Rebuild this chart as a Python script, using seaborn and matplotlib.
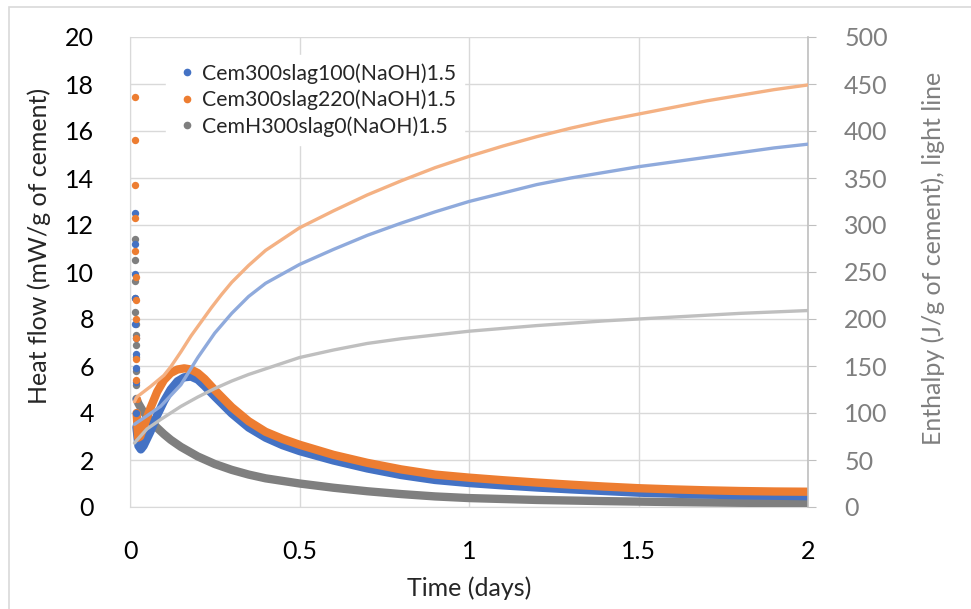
import numpy as np
import pandas as pd
import matplotlib
matplotlib.use("Agg")
import matplotlib.pyplot as plt
import seaborn as sns
from matplotlib.lines import Line2D
from matplotlib.patches import Rectangle

# ---------------- DATA ----------------
labels = ["Cem300slag100(NaOH)1.5", "Cem300slag220(NaOH)1.5", "CemH300slag0(NaOH)1.5"]

# initial spike (separate dots)
spike_t_blue = [0.0140, 0.0145, 0.0150, 0.0155, 0.0160, 0.0165, 0.0170, 0.0175, 0.0180, 0.0185, 0.0190]
spike_v_blue = [12.5, 11.2, 9.9, 8.9, 7.8, 7.2, 6.5, 5.9, 5.3, 4.6, 4.0]
spike_t_orange = [0.0140, 0.0145, 0.0150, 0.0155, 0.0160, 0.0165, 0.0170, 0.0175, 0.0180, 0.0185, 0.0190, 0.0195]
spike_v_orange = [17.45, 15.6, 13.7, 12.3, 10.9, 9.8, 8.8, 8.0, 7.2, 6.3, 5.4, 4.6]
spike_t_gray = [0.0140, 0.0145, 0.0150, 0.0155, 0.0160, 0.0165, 0.0170, 0.0175, 0.0180, 0.0185, 0.0190]
spike_v_gray = [11.4, 10.5, 9.6, 8.9, 8.3, 7.8, 7.3, 6.9, 6.4, 5.8, 5.2]

# heat flow (left axis)
t_blue = [0.019, 0.025, 0.032, 0.04, 0.06, 0.08, 0.10, 0.12, 0.14, 0.16, 0.18, 0.20,
          0.22, 0.25, 0.30, 0.35, 0.40, 0.45, 0.5, 0.6, 0.7, 0.8, 0.9, 1.0, 1.1,
          1.2, 1.3, 1.4, 1.5, 1.6, 1.7, 1.8, 1.9, 2.0]
hf_blue = [3.4, 2.6, 2.45, 2.6, 3.2, 3.9, 4.5, 5.0, 5.35, 5.52, 5.55, 5.42,
           5.15, 4.7, 3.98, 3.38, 2.95, 2.63, 2.38, 1.98, 1.64, 1.36, 1.15, 1.02, 0.92,
           0.83, 0.75, 0.68, 0.61, 0.57, 0.53, 0.5, 0.48, 0.46]

t_orange = [0.0195, 0.024, 0.03, 0.04, 0.06, 0.08, 0.10, 0.12, 0.14, 0.16, 0.18, 0.20,
            0.22, 0.25, 0.30, 0.35, 0.40, 0.45, 0.5, 0.6, 0.7, 0.8, 0.9, 1.0, 1.1,
            1.2, 1.3, 1.4, 1.5, 1.6, 1.7, 1.8, 1.9, 2.0]
hf_orange = [4.0, 2.95, 3.0, 3.4, 4.2, 4.9, 5.4, 5.7, 5.85, 5.9, 5.85, 5.7,
             5.45, 4.98, 4.25, 3.65, 3.2, 2.9, 2.65, 2.22, 1.88, 1.6, 1.38, 1.25, 1.14,
             1.04, 0.95, 0.87, 0.8, 0.75, 0.71, 0.68, 0.66, 0.65]

t_gray = [0.019, 0.025, 0.035, 0.05, 0.065, 0.08, 0.1, 0.12, 0.15, 0.2, 0.25, 0.3, 0.35,
          0.4, 0.5, 0.6, 0.7, 0.8, 0.9, 1.0, 1.2, 1.4, 1.6, 1.8, 2.0]
hf_gray = [4.6, 4.4, 4.15, 3.85, 3.6, 3.37, 3.1, 2.86, 2.56, 2.15, 1.83, 1.58, 1.38,
           1.22, 1.0, 0.82, 0.67, 0.55, 0.45, 0.38, 0.3, 0.25, 0.21, 0.18, 0.16]

# enthalpy (right axis, light lines)
te_orange = [0.013, 0.02, 0.06, 0.1, 0.12, 0.15, 0.18, 0.21, 0.24, 0.27, 0.3, 0.35, 0.4,
             0.5, 0.6, 0.7, 0.8, 0.9, 1.0, 1.1, 1.2, 1.3, 1.4, 1.5, 1.6, 1.7, 1.8, 1.9, 2.0]
h_orange = [112, 117, 128, 140, 149, 165, 182, 197, 212, 226, 239, 257, 273,
            297, 315, 332, 347, 361, 373, 384, 394, 403, 411, 418, 425, 432, 438, 444, 449]

te_blue = [0.013, 0.05, 0.09, 0.15, 0.2, 0.25, 0.3, 0.35, 0.4, 0.5, 0.6, 0.7, 0.8,
           0.9, 1.0, 1.1, 1.2, 1.3, 1.4, 1.5, 1.6, 1.7, 1.8, 1.9, 2.0]
h_blue = [88, 97, 107, 130, 159, 185, 206, 224, 238, 258, 274, 289, 302,
          314, 325, 334, 343, 350, 356, 362, 367, 372, 377, 382, 386]

te_gray = [0.013, 0.02, 0.05, 0.09, 0.15, 0.2, 0.25, 0.3, 0.35, 0.4, 0.5, 0.6, 0.7,
           0.8, 0.9, 1.0, 1.2, 1.4, 1.6, 1.8, 2.0]
h_gray = [68, 71, 83, 93, 107, 117, 126, 134, 141, 147, 159, 167, 174,
          179, 183, 187, 193, 198, 202, 206, 209]

dark = ["#4472C4", "#ED7D31", "#7F7F7F"]
light = ["#8FAADC", "#F4B183", "#BFBFBF"]

# ---------------- PLOT ----------------
sns.set_style("white")
plt.rcParams["font.family"] = ["Lato", "DejaVu Sans"]

fig = plt.figure(figsize=(9.71, 6.09), dpi=100)
ax = fig.add_axes([130 / 971, 1 - 507 / 609, 678 / 971, 470 / 609])
ax2 = ax.twinx()

heat = [(t_blue, hf_blue), (t_orange, hf_orange), (t_gray, hf_gray)]
spikes = [(spike_t_blue, spike_v_blue), (spike_t_orange, spike_v_orange),
          (spike_t_gray, spike_v_gray)]
enth = [(te_blue, h_blue), (te_orange, h_orange), (te_gray, h_gray)]

for i in [2, 0, 1]:
    t, v = heat[i]
    sns.lineplot(x=t, y=v, ax=ax, color=dark[i], lw=6, sort=False,
                 estimator=None, solid_capstyle="round", solid_joinstyle="round",
                 zorder=3)
    st, sv = spikes[i]
    sns.scatterplot(x=st, y=sv, ax=ax, color=dark[i], s=28, linewidth=0, zorder=4)

for i in [2, 0, 1]:
    t, h = enth[i]
    sns.lineplot(x=t, y=h, ax=ax2, color=light[i], lw=2.4, sort=False,
                 estimator=None, zorder=3)

ax.set_xlim(0, 2)
ax.set_ylim(0, 20)
ax2.set_ylim(0, 500)
ax.set_xticks([0, 0.5, 1, 1.5, 2])
ax.set_xticklabels(["0", "0.5", "1", "1.5", "2"])
ax.set_yticks(range(0, 21, 2))
ax2.set_yticks(range(0, 501, 50))

ax.grid(True, color="#D9D9D9", lw=1)
ax.set_axisbelow(True)
ax2.grid(False)

ax.spines["top"].set_visible(False)
ax2.spines["top"].set_visible(False)
ax.spines["left"].set_color("#D9D9D9")
ax.spines["bottom"].set_color("#D9D9D9")
ax.spines["right"].set_visible(False)
ax2.spines["left"].set_visible(False)
ax2.spines["bottom"].set_visible(False)
ax2.spines["right"].set_color("#BFBFBF")
ax2.spines["right"].set_linewidth(1.2)

ax.tick_params(axis="both", length=0, labelsize=18, labelcolor="black")
ax.tick_params(axis="y", pad=26)
ax.tick_params(axis="x", pad=24)
ax2.tick_params(axis="y", direction="out", length=6, color="#BFBFBF",
                labelsize=18, labelcolor="#7F7F7F", pad=20)

ax.set_xlabel("Time (days)", fontsize=18)
ax.xaxis.set_label_coords(0.5, -0.148)
ax.set_ylabel("Heat flow (mW/g of cement)", fontsize=18)
ax.yaxis.set_label_coords(-0.117, 0.555)
ax2.set_ylabel("Enthalpy (J/g of cement), light line", fontsize=18, color="#7F7F7F")
ax2.yaxis.set_label_coords(1.167, 0.53)

handles = [Line2D([], [], ls="none", marker="o", ms=4.5, color=c) for c in dark]
leg = ax2.legend(handles, labels, loc="upper left", bbox_to_anchor=(0.037, 0.985),
                 frameon=True, fontsize=15.3, handletextpad=0.1, labelspacing=0.28,
                 borderpad=0.4, handlelength=1.2)
leg.get_frame().set_facecolor("white")
leg.get_frame().set_edgecolor("white")
leg.get_frame().set_alpha(1)

fig.patches.append(Rectangle((9 / 971, -0.1), 1.1, 1 - 7 / 609 + 0.1,
                             transform=fig.transFigure, fill=False,
                             edgecolor="#D9D9D9", lw=1.2))

fig.savefig("out.png", dpi=100, facecolor="white")
